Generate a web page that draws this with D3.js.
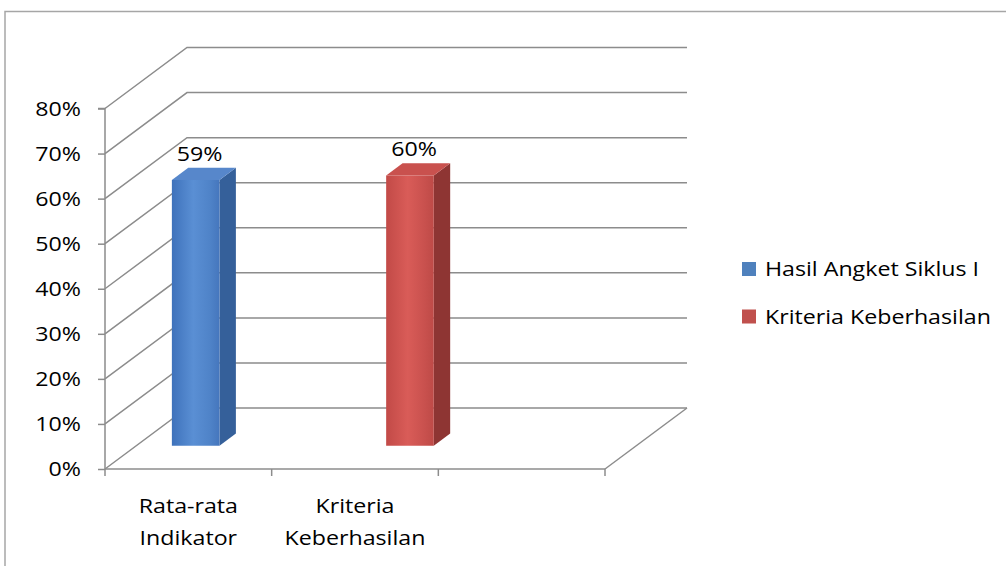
<!DOCTYPE html>
<html><head><meta charset="utf-8">
<script src="https://cdn.jsdelivr.net/npm/d3@7"></script>
<style>body{margin:0;background:#fff}svg{display:block}</style>
</head><body>
<svg id="c" width="1006" height="566"></svg>
<script>
const categories = ["Rata-rata\nIndikator", "Kriteria\nKeberhasilan", ""];
const seriesNames = ["Hasil Angket Siklus I", "Kriteria Keberhasilan"];
const seriesHasil = [0.59, null, null];
const seriesKriteria = [null, 0.60, null];
const yTicks = [0, 0.1, 0.2, 0.3, 0.4, 0.5, 0.6, 0.7, 0.8];

const FONT = "'Open Sans', sans-serif";
const FS = 20, SX = 1.16;
const svg = d3.select("#c");
const x0 = 105, x1 = 605, yBase = 469, yTop = 108.5;
const DX = 82, DY = -61;
const y = d3.scaleLinear().domain([0, 0.8]).range([yBase, yTop]);
const x = d3.scaleBand().domain(d3.range(categories.length)).range([x0, x1]);
const xs = d3.scaleBand().domain([0, 1]).range([0, x.bandwidth()]).paddingInner(0).paddingOuter(0.75);
const P = (px, py, t) => [px + DX * t, py + DY * t];
const grid = "#8c8c8c";

// stretched text helper
function label(parent, tx, ty, str, anchor) {
  return parent.append("g").attr("transform", `translate(${tx},${ty}) scale(${SX},1)`)
    .append("text").attr("text-anchor", anchor || "start")
    .attr("font-family", FONT).attr("font-size", FS).attr("fill", "#000").text(str);
}

// frame
svg.append("rect").attr("x", 5).attr("y", 11.5).attr("width", 1010).attr("height", 600)
  .attr("fill", "none").attr("stroke", "#a6a6a6").attr("stroke-width", 1.5);

// walls / gridlines
const g = svg.append("g").attr("stroke", grid).attr("stroke-width", 1.5).attr("fill", "none");
yTicks.forEach(v => {
  const a = P(x0, y(v), 0), b = P(x0, y(v), 1), c = P(x1, y(v), 1);
  g.append("polyline").attr("points", [a, b, c].map(p => p.join(",")).join(" "));
});
const fa = P(x1, yBase, 0), fb = P(x1, yBase, 1);
g.append("line").attr("x1", fa[0]).attr("y1", fa[1]).attr("x2", fb[0]).attr("y2", fb[1]);

// gradients
const defs = svg.append("defs");
function grad(id, stops) {
  const lg = defs.append("linearGradient").attr("id", id).attr("x1", 0).attr("x2", 1).attr("y1", 0).attr("y2", 0);
  stops.forEach(([o, c]) => lg.append("stop").attr("offset", o).attr("stop-color", c));
}
grad("bFront", [[0, "#3e72bb"], [0.45, "#5a8fd4"], [0.8, "#4f83c8"], [1, "#4576bd"]]);
grad("rFront", [[0, "#c24a47"], [0.45, "#d95c58"], [0.8, "#c9514e"], [1, "#be4a47"]]);
const colors = [
  { front: "url(#bFront)", side: "#35609a", top: "#5787cb", legend: "#4f81bd" },
  { front: "url(#rFront)", side: "#8e3533", top: "#c9514e", legend: "#c0504d" }
];

const t0 = 0.38, t1 = 0.58;
const seriesData = [seriesHasil, seriesKriteria];
const bars = svg.append("g");
seriesData.forEach((vals, si) => {
  vals.forEach((v, ci) => {
    if (v == null) return;
    const bx = x(ci) + xs(si), bw = xs.bandwidth();
    const yb = y(0), yt = y(v);
    const f = [P(bx, yt, t0), P(bx + bw, yt, t0), P(bx + bw, yb, t0), P(bx, yb, t0)];
    const s = [P(bx + bw, yt, t0), P(bx + bw, yt, t1), P(bx + bw, yb, t1), P(bx + bw, yb, t0)];
    const tp = [P(bx, yt, t0), P(bx, yt, t1), P(bx + bw, yt, t1), P(bx + bw, yt, t0)];
    const pts = a => a.map(p => p.join(",")).join(" ");
    bars.append("polygon").attr("points", pts(s)).attr("fill", colors[si].side);
    bars.append("polygon").attr("points", pts(tp)).attr("fill", colors[si].top);
    bars.append("polygon").attr("points", pts(f)).attr("fill", colors[si].front);
    const lp = P(bx + bw / 2, yt, t0);
    label(bars, lp[0] + 4, lp[1] - 19, d3.format(".0%")(v), "middle");
  });
});

// front axes
const ya = svg.append("g").attr("transform", `translate(${x0},0)`)
  .call(d3.axisLeft(y).tickValues(yTicks).tickFormat("").tickSize(7));
ya.select(".domain").attr("stroke", grid).attr("stroke-width", 1.5).attr("d", `M-7,${yTop}H0V${yBase}`);
ya.selectAll(".tick line").attr("stroke", grid).attr("stroke-width", 1.5);
ya.selectAll(".tick text").remove();
yTicks.forEach(v => label(svg, x0 - 24, y(v) + 7, d3.format(".0%")(v), "end"));

const xa = svg.append("g").attr("transform", `translate(0,${yBase})`);
xa.append("line").attr("x1", x0).attr("x2", x1).attr("stroke", grid).attr("stroke-width", 1.5);
d3.range(categories.length + 1).forEach(i => {
  const px = i < categories.length ? x(i) : x1;
  xa.append("line").attr("x1", px).attr("x2", px).attr("y1", 0).attr("y2", 7).attr("stroke", grid).attr("stroke-width", 1.5);
});
categories.forEach((c, i) => {
  c.split("\n").forEach((l, k) => label(xa, x(i) + x.bandwidth() / 2, 44 + k * 32, l, "middle"));
});

// legend
const lg = svg.append("g");
seriesNames.forEach((n, i) => {
  const ly = 269 + i * 47.5;
  lg.append("rect").attr("x", 742).attr("y", ly - 7).attr("width", 14).attr("height", 14).attr("fill", colors[i].legend);
  label(lg, 765, ly + 7, n, "start");
});
</script>
</body></html>
